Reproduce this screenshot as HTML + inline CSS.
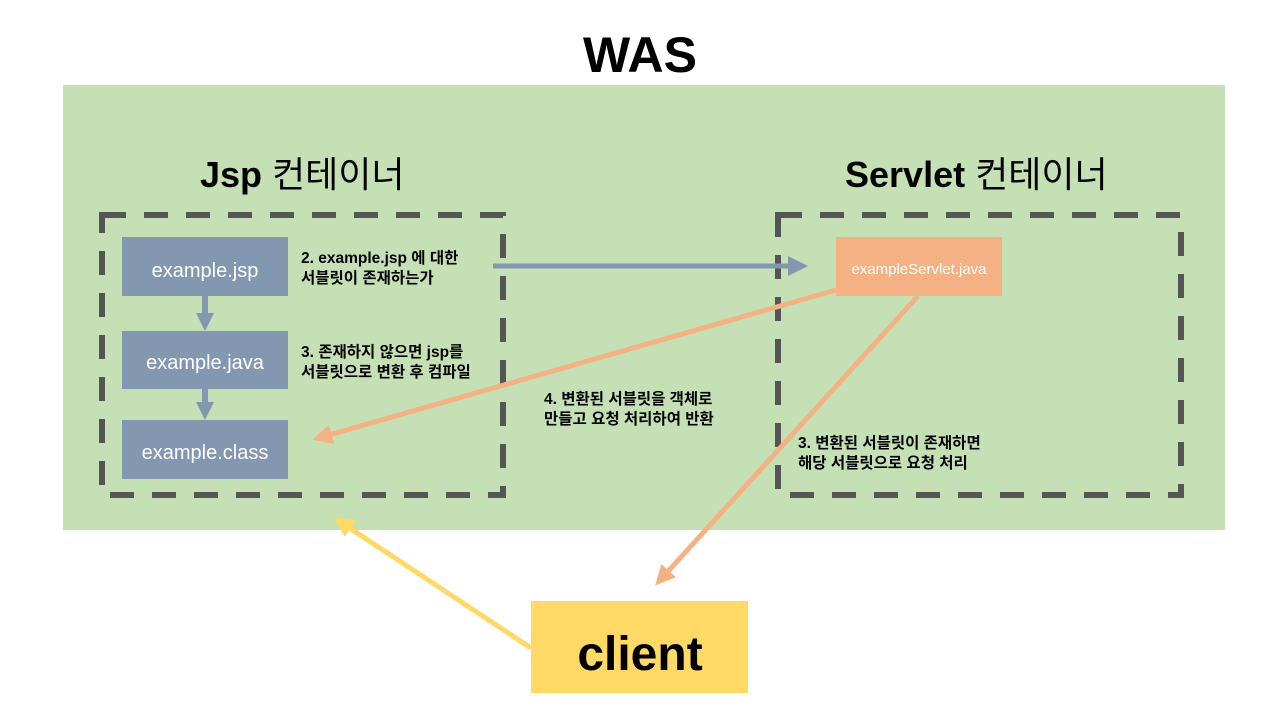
<!DOCTYPE html>
<html><head><meta charset="utf-8"><style>
body{margin:0;background:#fff}
svg{display:block}
text{font-family:"Liberation Sans","Noto Sans CJK KR",sans-serif}
</style></head><body>
<svg width="1280" height="720" viewBox="0 0 1280 720">
<defs>
<marker id="mb" markerWidth="4" markerHeight="4" refX="2" refY="2" orient="auto" markerUnits="strokeWidth"><path d="M0,0 L4,2 L0,4 Z" fill="#8497b0"/></marker>
<marker id="mo" markerWidth="4" markerHeight="4" refX="2" refY="2" orient="auto" markerUnits="strokeWidth"><path d="M0,0 L4,2 L0,4 Z" fill="#f4b183"/></marker>
<marker id="my" markerWidth="4" markerHeight="4" refX="2" refY="2" orient="auto" markerUnits="strokeWidth"><path d="M0,0 L4,2 L0,4 Z" fill="#ffd966"/></marker>
</defs>
<text x="640" y="72" text-anchor="middle" font-size="50" font-weight="900">WAS</text>
<rect x="63" y="85" width="1162" height="445" fill="#c5e0b4"/>
<text x="200" y="187" font-size="36"><tspan font-weight="900">Jsp</tspan> 컨테이너</text>
<text x="845" y="187" font-size="36"><tspan font-weight="900">Servlet</tspan> 컨테이너</text>
<rect x="102" y="215" width="401" height="280" fill="none" stroke="#555" stroke-width="6" stroke-dasharray="24,18"/>
<rect x="778" y="215" width="403" height="280" fill="none" stroke="#555" stroke-width="6" stroke-dasharray="24,18"/>
<rect x="122" y="237" width="166" height="59" fill="#8497b0"/>
<rect x="122" y="331" width="166" height="58" fill="#8497b0"/>
<rect x="122" y="420" width="166" height="59" fill="#8497b0"/>
<text x="205" y="277" text-anchor="middle" font-size="20" fill="#fff">example.jsp</text>
<text x="205" y="369" text-anchor="middle" font-size="20" fill="#fff">example.java</text>
<text x="205" y="459" text-anchor="middle" font-size="20" fill="#fff">example.class</text>
<line x1="205" y1="296" x2="205" y2="314" stroke="#8497b0" stroke-width="6"/>
<path d="M196,313 L214,313 L205,331 Z" fill="#8497b0"/>
<line x1="205" y1="389" x2="205" y2="403" stroke="#8497b0" stroke-width="6"/>
<path d="M196,402 L214,402 L205,420 Z" fill="#8497b0"/>
<rect x="836" y="237" width="166" height="59" fill="#f4b183"/>
<text x="919" y="274" text-anchor="middle" font-size="15" fill="#fff">exampleServlet.java</text>
<line x1="493" y1="266" x2="798" y2="266" stroke="#8497b0" stroke-width="5" marker-end="url(#mb)"/>
<line x1="836" y1="290" x2="322" y2="437" stroke="#f4b183" stroke-width="5" marker-end="url(#mo)"/>
<line x1="918" y1="296" x2="662" y2="578" stroke="#f4b183" stroke-width="5" marker-end="url(#mo)"/>
<line x1="531" y1="648" x2="342" y2="523" stroke="#ffd966" stroke-width="5" marker-end="url(#my)"/>
<g font-size="15.5" font-weight="bold">
<text x="301" y="263">2. example.jsp 에 대한</text>
<text x="301" y="283">서블릿이 존재하는가</text>
<text x="301" y="357">3. 존재하지 않으면 jsp를</text>
<text x="301" y="377">서블릿으로 변환 후 컴파일</text>
<text x="544" y="404">4. 변환된 서블릿을 객체로</text>
<text x="544" y="424">만들고 요청 처리하여 반환</text>
<text x="798" y="448">3. 변환된 서블릿이 존재하면</text>
<text x="798" y="468">해당 서블릿으로 요청 처리</text>
</g>
<rect x="531" y="601" width="217" height="92" fill="#ffd966"/>
<text x="640" y="670" text-anchor="middle" font-size="48" font-weight="900">client</text>
</svg>
</body></html>
